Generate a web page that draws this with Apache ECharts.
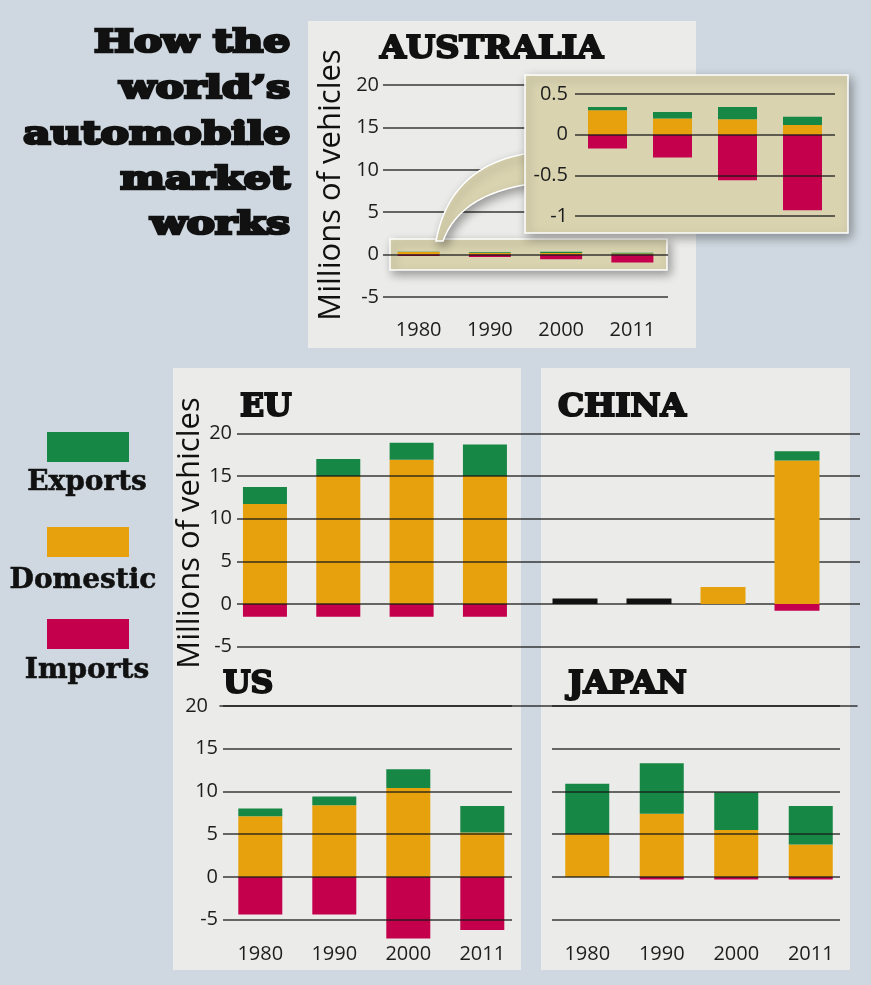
<!DOCTYPE html>
<html>
<head>
<meta charset="utf-8">
<script src="https://cdn.jsdelivr.net/npm/echarts@6/dist/echarts.min.js"></script>
<style>html,body{margin:0;padding:0;background:#cfd8e0;}#c{width:871px;height:985px;}</style>
</head>
<body>
<div id="c"></div>
<script>
// ---------- data (millions of vehicles) ----------
const years = ['1980', '1990', '2000', '2011'];
const seriesNames = ['Exports', 'Domestic', 'Imports'];

const ausDomestic = [0.30, 0.20, 0.19, 0.12];
const ausExports  = [0.04, 0.08, 0.15, 0.10];
const ausImports  = [-0.17, -0.28, -0.56, -0.93];

const euDomestic = [11.7, 15.0, 16.9, 15.0];
const euExports  = [2.0, 2.0, 2.0, 3.7];
const euImports  = [-1.5, -1.5, -1.5, -1.5];

const chinaDomestic = [0, 0, 2.0, 16.8];
const chinaExports  = [0, 0, 0, 1.1];
const chinaImports  = [0, 0, 0, -0.8];
const chinaUnsplit  = [0.65, 0.65, 0, 0];   // drawn in black

const usDomestic = [7.1, 8.4, 10.4, 5.2];
const usExports  = [0.9, 1.0, 2.2, 3.1];
const usImports  = [-4.4, -4.4, -7.2, -6.2];

const jpDomestic = [5.0, 7.4, 5.5, 3.8];
const jpExports  = [5.9, 5.9, 4.4, 4.5];
const jpImports  = [0, -0.3, -0.3, -0.3];

const mainTicks  = {min: -5, max: 20, interval: 5};
const insetTicks = {min: -1, max: 0.5, interval: 0.5};

// ---------- styles ----------
const C_EXP = '#178745', C_DOM = '#e6a10c', C_IMP = '#c4004c';
const BEIGE = '#d9d3b0', PANEL = '#ebebe9';
const LINE = 'rgba(25,25,25,0.85)';
const SANS = '"Open Sans", sans-serif';
const SERIF = '"DejaVu Serif", serif';
const labelStyle = {fontSize: 20, color: '#1d1d1d', fontFamily: SANS};

const grids = [], xAxes = [], yAxes = [], series = [];

function addGrid(g) { grids.push(Object.assign({outerBoundsMode: 'none', containLabel: false}, g)); return grids.length - 1; }

function catX(gi, showLabel, margin) {
  return {type: 'category', gridIndex: gi, data: years, boundaryGap: true,
    axisLine: {show: false, onZero: false}, axisTick: {show: false},
    axisLabel: Object.assign({show: showLabel, margin: margin || 20}, labelStyle),
    splitLine: {show: false}};
}
function hiddenX(gi) { return {type: 'value', gridIndex: gi, min: 0, max: 1, show: false}; }
function lineY(gi, ticks, showLabel, margin, z, fmt) {
  return {type: 'value', gridIndex: gi, min: ticks.min, max: ticks.max, interval: ticks.interval, z: z,
    axisLine: {show: false}, axisTick: {show: false},
    axisLabel: Object.assign({show: showLabel, margin: margin, formatter: fmt}, labelStyle),
    splitLine: {show: true, lineStyle: {color: LINE, width: 1.6}}};
}
function hiddenY(gi, ticks) { return {type: 'value', gridIndex: gi, min: ticks.min, max: ticks.max, interval: ticks.interval, show: false}; }

function addBars(gi, dom, exp, imp, width, z, extra) {
  const st = 's' + gi;
  const base = {type: 'bar', xAxisIndex: gi, yAxisIndex: gi, stack: st, barWidth: width, z: z, clip: false, silent: true, animation: false};
  if (extra) series.push(Object.assign({}, base, {name: 'n/a', data: extra, itemStyle: {color: '#111'}}));
  series.push(Object.assign({}, base, {name: seriesNames[1], data: dom, itemStyle: {color: C_DOM}}));
  series.push(Object.assign({}, base, {name: seriesNames[0], data: exp, itemStyle: {color: C_EXP}}));
  series.push(Object.assign({}, base, {name: seriesNames[2], data: imp, itemStyle: {color: C_IMP}}));
}

// Australia main
let g = addGrid({left: 383, top: 85, width: 285, height: 212});
xAxes.push(catX(g, true, 23)); yAxes.push(lineY(g, mainTicks, true, 4, 4));
addBars(g, ausDomestic, ausExports, ausImports, 42, 3);

// Australia inset (zoomed)
g = addGrid({left: 575, top: 94, width: 260, height: 122});
xAxes.push(catX(g, false)); yAxes.push(lineY(g, insetTicks, true, 7, 12));
addBars(g, ausDomestic, ausExports, ausImports, 39, 11);

// EU lines + labels
g = addGrid({left: 237, top: 433.3, width: 293, height: 213.3});
xAxes.push(hiddenX(g)); yAxes.push(lineY(g, mainTicks, true, 5, 5));
// China lines (under bars)
g = addGrid({left: 530, top: 433.3, width: 330, height: 213.3});
xAxes.push(hiddenX(g)); yAxes.push(lineY(g, mainTicks, false, 5, 1));
// EU bars
g = addGrid({left: 228.3, top: 433.3, width: 293.3, height: 213.3});
xAxes.push(catX(g, false)); yAxes.push(hiddenY(g, mainTicks));
addBars(g, euDomestic, euExports, euImports, 44, 2);
// China bars
g = addGrid({left: 538, top: 433.3, width: 296, height: 213.3});
xAxes.push(catX(g, false)); yAxes.push(hiddenY(g, mainTicks));
addBars(g, chinaDomestic, chinaExports, chinaImports, 45, 2, chinaUnsplit);

// long "20" line across US and Japan
g = addGrid({left: 220, top: 705.5, width: 637, height: 1});
xAxes.push({type: 'value', gridIndex: g, min: 0, max: 1, position: 'top', z: 5,
  axisLine: {show: true, onZero: false, lineStyle: {color: LINE, width: 1.6}},
  axisTick: {show: false}, axisLabel: {show: false}, splitLine: {show: false}});
yAxes.push({type: 'category', gridIndex: g, data: [String(mainTicks.max)],
  axisLine: {show: false}, axisTick: {show: false}, splitLine: {show: false},
  axisLabel: Object.assign({margin: 12}, labelStyle)});
// US lines + labels
g = addGrid({left: 223, top: 706, width: 289, height: 213.7});
xAxes.push(hiddenX(g)); yAxes.push(lineY(g, mainTicks, true, 5, 5, v => (v === mainTicks.max ? '' : String(v))));
// Japan lines
g = addGrid({left: 552, top: 706, width: 288, height: 213.7});
xAxes.push(hiddenX(g)); yAxes.push(lineY(g, mainTicks, false, 5, 5));
// US bars
g = addGrid({left: 223.3, top: 706, width: 296, height: 213.7});
xAxes.push(catX(g, true, 25)); yAxes.push(hiddenY(g, mainTicks));
addBars(g, usDomestic, usExports, usImports, 44, 2);
// Japan bars
g = addGrid({left: 550, top: 706, width: 298, height: 213.7});
xAxes.push(catX(g, true, 25)); yAxes.push(hiddenY(g, mainTicks));
addBars(g, jpDomestic, jpExports, jpImports, 44, 2);

// ---------- decoration ----------
function quad(p0, q, p2, n) {
  const pts = [];
  for (let i = 0; i <= n; i++) {
    const t = i / n, a = (1 - t) * (1 - t), b = 2 * t * (1 - t), c = t * t;
    pts.push([a * p0[0] + b * q[0] + c * p2[0], a * p0[1] + b * q[1] + c * p2[1]]);
  }
  return pts;
}
const calloutPts = quad([436, 241], [450, 165], [530, 153], 24).concat(quad([530, 184], [460, 194.5], [443, 241], 24));

const shadow = {shadowBlur: 10, shadowColor: 'rgba(0,0,0,0.35)', shadowOffsetX: 3, shadowOffsetY: 4};
function txt(text, x, y, size, weight, family, align, extra, strokeW) {
  const style = {text: text, fontSize: size, fontWeight: weight, fontFamily: family, fill: '#111',
      textAlign: align, align: align, textVerticalAlign: 'middle', verticalAlign: 'middle'};
  if (strokeW) { style.stroke = '#111'; style.lineWidth = strokeW; }
  return Object.assign({type: 'text', x: x, y: y, z: 20, silent: true, style: style}, extra || {});
}

const graphics = [
  {type: 'rect', z: 0, silent: true, shape: {x: 308, y: 21, width: 388, height: 327}, style: {fill: PANEL}},
  {type: 'rect', z: 0, silent: true, shape: {x: 173, y: 368, width: 348, height: 602}, style: {fill: PANEL}},
  {type: 'rect', z: 0, silent: true, shape: {x: 541, y: 368, width: 309, height: 602}, style: {fill: PANEL}},
  // small highlight box around zero
  {type: 'rect', z: 1, silent: true, shape: {x: 390, y: 239, width: 277, height: 31},
    style: Object.assign({fill: BEIGE, stroke: '#fff', lineWidth: 1.5}, shadow)},
  // callout
  {type: 'polygon', z: 8, silent: true, shape: {points: calloutPts},
    style: Object.assign({fill: BEIGE, stroke: '#fff', lineWidth: 1.5}, shadow)},
  // inset box
  {type: 'rect', z: 9, silent: true, shape: {x: 525, y: 75, width: 323, height: 158},
    style: Object.assign({fill: BEIGE, stroke: '#fff', lineWidth: 1.5}, shadow)},
  // legend
  {type: 'rect', z: 1, silent: true, shape: {x: 47, y: 432, width: 82, height: 30}, style: {fill: C_EXP}},
  {type: 'rect', z: 1, silent: true, shape: {x: 47, y: 527, width: 82, height: 30}, style: {fill: C_DOM}},
  {type: 'rect', z: 1, silent: true, shape: {x: 47, y: 619, width: 82, height: 30}, style: {fill: C_IMP}},
  txt(seriesNames[0], 87, 483, 28, 'bold', SERIF, 'center', null, 0.6),
  txt(seriesNames[1], 83, 581, 28, 'bold', SERIF, 'center', null, 0.6),
  txt(seriesNames[2], 87, 671, 28, 'bold', SERIF, 'center', null, 0.6),
  // main title
  txt('How the', 290, 44, 31, 'bold', SERIF, 'right', {scaleX: 1.36}, 2.6),
  txt('world\u2019s', 290, 90, 31, 'bold', SERIF, 'right', {scaleX: 1.36}, 2.6),
  txt('automobile', 290, 136, 31, 'bold', SERIF, 'right', {scaleX: 1.36}, 2.6),
  txt('market', 290, 181, 31, 'bold', SERIF, 'right', {scaleX: 1.36}, 2.6),
  txt('works', 290, 226, 31, 'bold', SERIF, 'right', {scaleX: 1.36}, 2.6),
  // panel titles
  txt('AUSTRALIA', 380, 50, 31, 'bold', SERIF, 'left', {scaleX: 1.08}, 2),
  txt('EU', 240, 408, 31, 'bold', SERIF, 'left', {scaleX: 1.02}, 2),
  txt('CHINA', 558, 408, 31, 'bold', SERIF, 'left', {scaleX: 1.06}, 2),
  txt('US', 223, 685, 31, 'bold', SERIF, 'left', {scaleX: 1.02}, 2),
  txt('JAPAN', 568, 685, 31, 'bold', SERIF, 'left', {scaleX: 1.06}, 2),
  // axis names
  txt('Millions of vehicles', 331, 185, 31, 'normal', SANS, 'center', {rotation: Math.PI / 2}),
  txt('Millions of vehicles', 190, 533, 31, 'normal', SANS, 'center', {rotation: Math.PI / 2})
];

const chart = echarts.init(document.getElementById('c'), null, {renderer: 'canvas', width: 871, height: 985});
chart.setOption({
  backgroundColor: '#cfd8e0',
  animation: false,
  grid: grids,
  xAxis: xAxes,
  yAxis: yAxes,
  series: series,
  graphic: {elements: graphics}
});
</script>
</body>
</html>
